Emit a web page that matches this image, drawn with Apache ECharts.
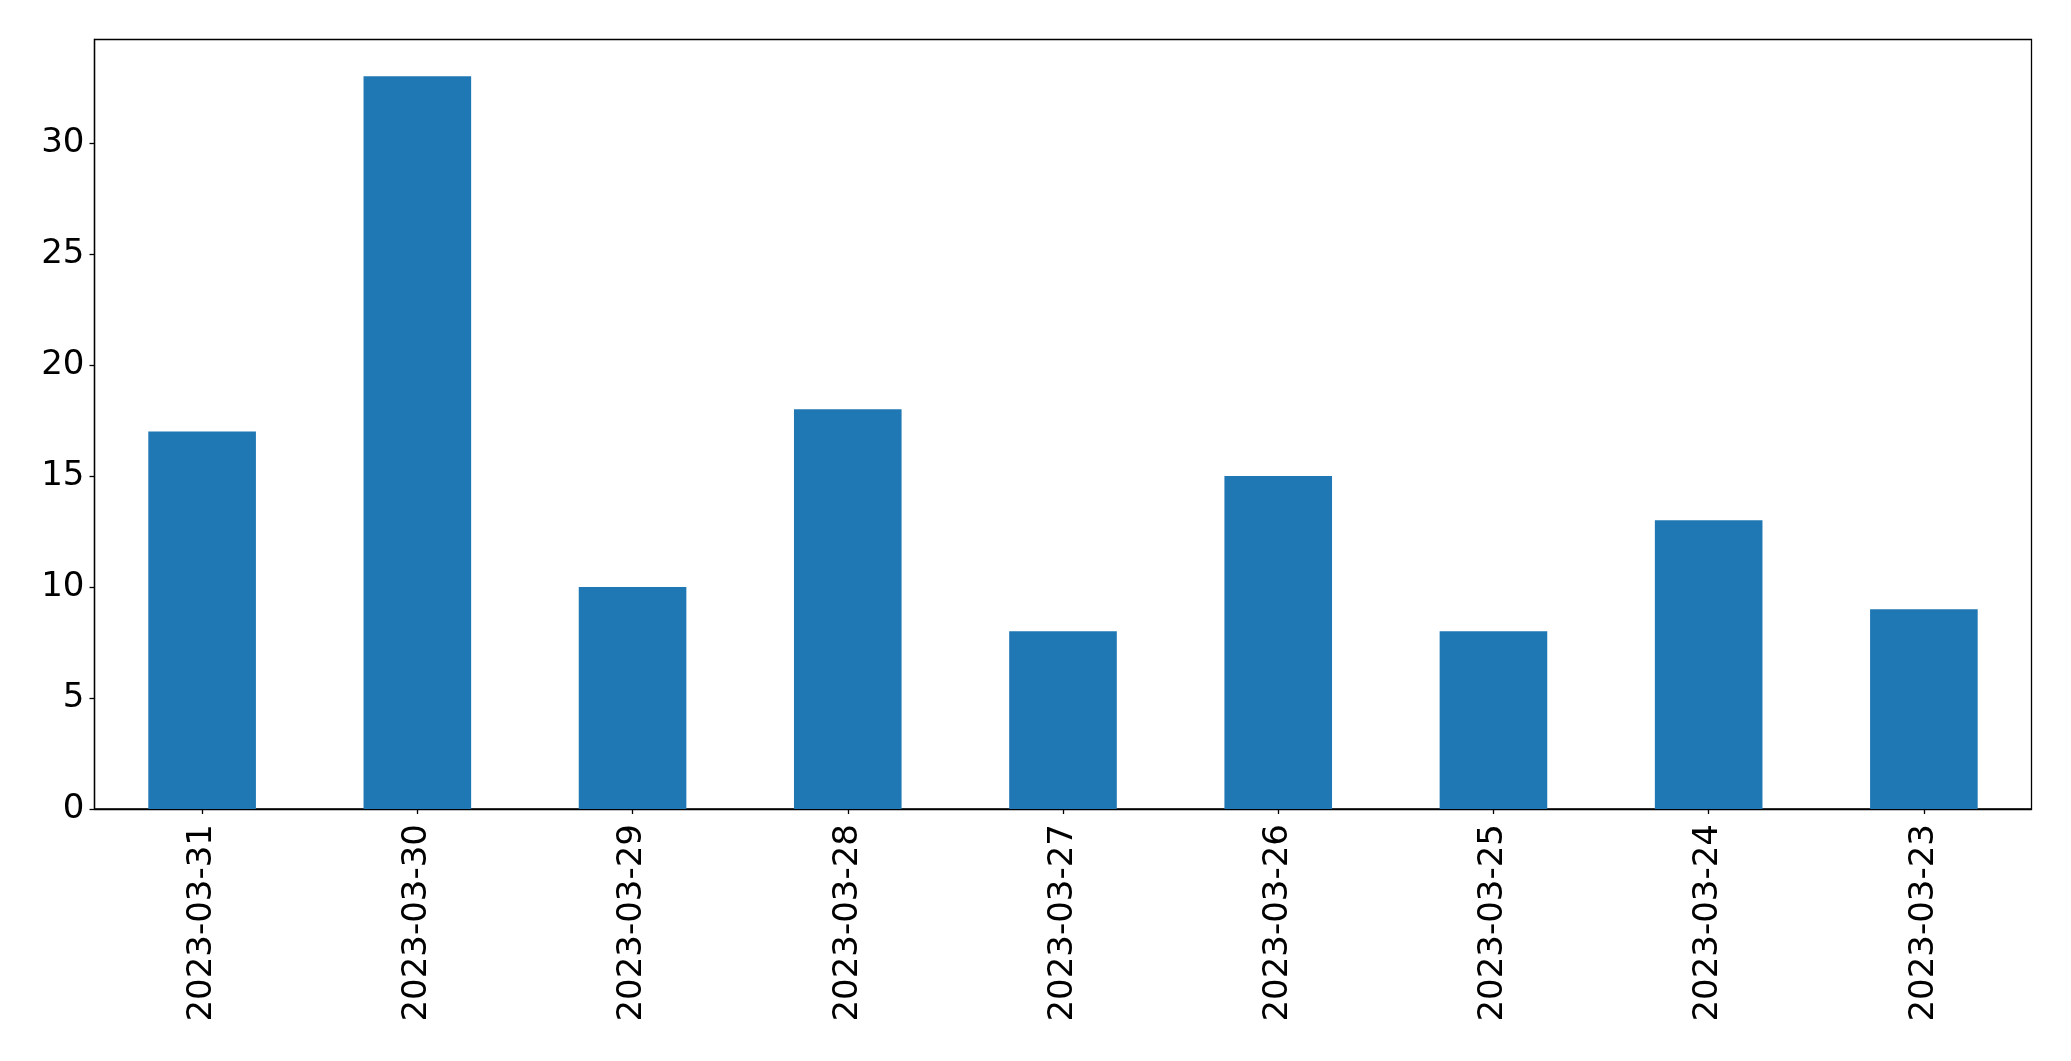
<!DOCTYPE html>
<html>
<head>
<meta charset="utf-8">
<script src="https://cdn.jsdelivr.net/npm/echarts@6/dist/echarts.min.js"></script>
<style>
html,body{margin:0;padding:0;background:#fff;}
#chart{width:2071px;height:1061px;}
</style>
</head>
<body>
<div id="chart"></div>
<script>
const categories = ["2023-03-31","2023-03-30","2023-03-29","2023-03-28","2023-03-27","2023-03-26","2023-03-25","2023-03-24","2023-03-23"];
const values = [17, 33, 10, 18, 8, 15, 8, 13, 9];
const yMax = 34.65;
const yInterval = 5;

const chart = echarts.init(document.getElementById('chart'), null, {renderer: 'canvas'});
const font = "DejaVu Sans";
chart.setOption({
  animation: false,
  backgroundColor: '#ffffff',
  grid: {
    left: 94.5, right: 39.5, top: 39.5, bottom: 252,
    show: true, borderColor: '#000', borderWidth: 1.3, backgroundColor: 'transparent'
  },
  xAxis: {
    type: 'category',
    data: categories,
    axisLine: {show: true, lineStyle: {color: '#000', width: 1.3}},
    axisTick: {show: true, alignWithLabel: true, length: 5, lineStyle: {color: '#000', width: 1.3}},
    axisLabel: {rotate: 90, fontSize: 34, fontFamily: font, color: '#000', margin: 15, interval: 0},
    splitLine: {show: false}
  },
  yAxis: {
    type: 'value',
    min: 0, max: yMax, interval: yInterval,
    axisLine: {show: true, lineStyle: {color: '#000', width: 1.3}},
    axisTick: {show: true, length: 5, lineStyle: {color: '#000', width: 1.3}},
    axisLabel: {fontSize: 34, fontFamily: font, color: '#000', margin: 10, showMaxLabel: false},
    splitLine: {show: false}
  },
  series: [{
    type: 'bar',
    data: values,
    barWidth: '50%',
    itemStyle: {color: '#1f77b4'}
  }]
});
</script>
</body>
</html>
